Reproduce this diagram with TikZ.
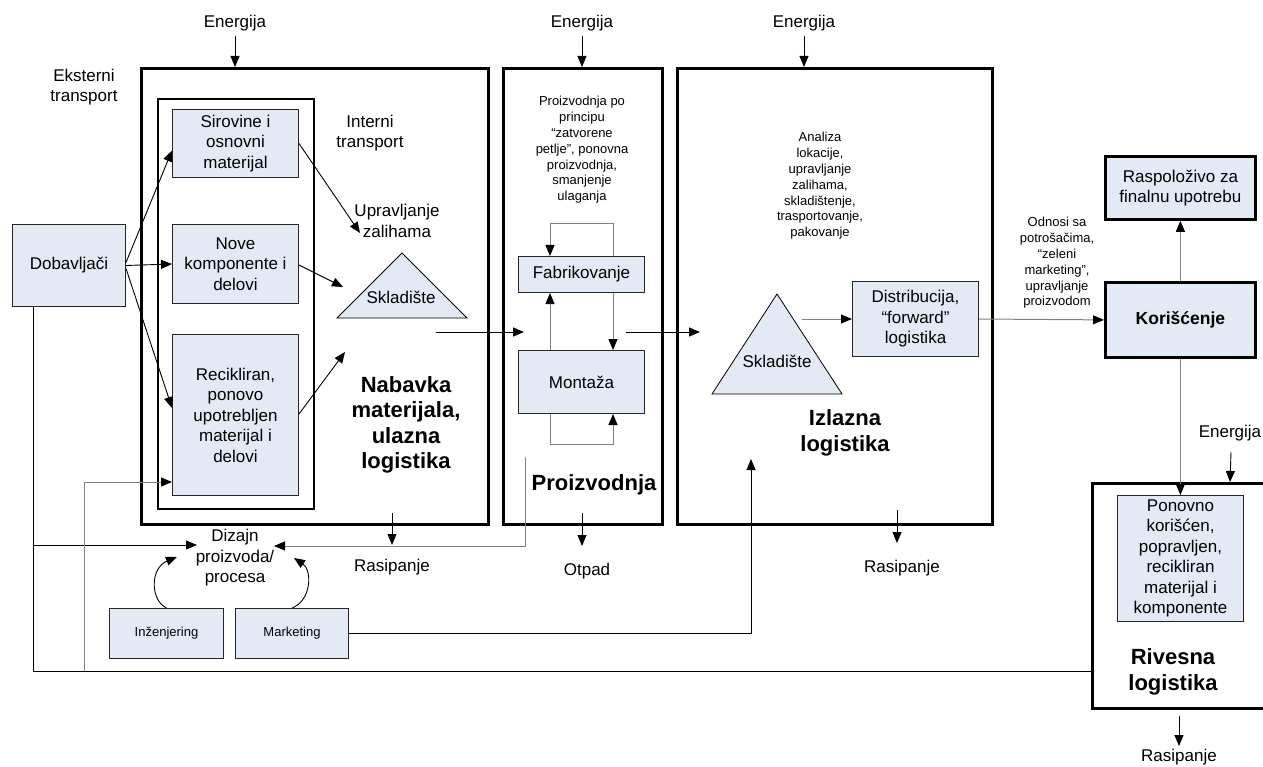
\documentclass[tikz,border=0pt]{standalone}
\usepackage{fontspec}
\setmainfont{Liberation Sans}
\usetikzlibrary{arrows.meta,calc}
\definecolor{boxblue}{HTML}{E4EAF5}
\begin{document}
\begin{tikzpicture}[x=1pt,y=-1pt,
  bigbox/.style={draw=black,line width=3pt,inner sep=0pt,anchor=north west},
  fbox/.style={draw=black!85,fill=boxblue,line width=1pt,inner sep=0pt,anchor=north west,align=center,font=\fontsize{17}{20.5}\selectfont},
  kbox/.style={fbox,line width=2.8pt,draw=black},
  txt/.style={align=center,inner sep=0pt,font=\fontsize{17}{20.5}\selectfont},
  smalltxt/.style={align=center,inner sep=0pt,font=\fontsize{13}{15.8}\selectfont},
  boldtxt/.style={align=center,inner sep=0pt,font=\fontsize{22}{25.5}\selectfont\bfseries},
  arr/.style={-{Triangle[length=11pt,width=9pt]},line width=0.9pt,draw=black},
  garr/.style={-{Triangle[length=11pt,width=9pt,color=black]},line width=1pt,draw=black!50},
  gline/.style={line width=1pt,draw=black!50},
  bline/.style={line width=0.9pt,draw=black},
  tri/.style={draw=black,fill=boxblue,line width=0.8pt}
]
\fill[white] (0,0) rectangle (1263,767);
\useasboundingbox (0,0) rectangle (1263,767);

% big boxes
\node[bigbox,minimum width=347pt,minimum height=456pt] (B1) at (140,67) {};
\node[bigbox,minimum width=159pt,minimum height=456pt] (B2) at (502,67) {};
\node[bigbox,minimum width=315pt,minimum height=456pt] (B3) at (676,67) {};
\node[bigbox,minimum width=180pt,minimum height=225pt] (B4) at (1091,482) {};
\node[draw=black,line width=1.6pt,inner sep=0pt,anchor=north west,minimum width=156pt,minimum height=410pt] (IN) at (157,98) {};

% filled boxes
\node[fbox,minimum width=126pt,minimum height=68pt] (Sir) at (172,109) {Sirovine i\\osnovni\\materijal};
\node[fbox,minimum width=126pt,minimum height=79pt] (Nov) at (172,224) {Nove\\komponente i\\delovi};
\node[fbox,minimum width=126pt,minimum height=161pt] (Rec) at (172,334) {Recikliran,\\ponovo\\upotrebljen\\materijal i\\delovi};
\node[fbox,minimum width=113pt,minimum height=82pt] (Dob) at (12,224) {Dobavljači};
\node[fbox,minimum width=126pt,minimum height=36pt] (Fab) at (518,256) {Fabrikovanje};
\node[fbox,minimum width=126pt,minimum height=63pt] (Mon) at (518,350) {Montaža};
\node[fbox,minimum width=126pt,minimum height=75pt] (Dis) at (852,281) {Distribucija,\\“forward”\\logistika};
\node[kbox,minimum width=150pt,minimum height=75pt,font=\fontsize{17.5}{20.5}\selectfont\bfseries] (Kor) at (1104,281) {Korišćenje};
\node[kbox,minimum width=150pt,minimum height=63pt] (Ras) at (1104,155) {Raspoloživo za\\finalnu upotrebu};
\node[fbox,minimum width=126pt,minimum height=126pt] (Pon) at (1117,495) {Ponovno\\korišćen,\\popravljen,\\recikliran\\materijal i\\komponente};
\node[fbox,minimum width=114pt,minimum height=50pt,font=\fontsize{13}{15.8}\selectfont] (Inz) at (109,608) {Inženjering};
\node[fbox,minimum width=113pt,minimum height=50pt,font=\fontsize{13}{15.8}\selectfont] (Mar) at (235,608) {Marketing};

% triangles
\draw[tri] (402,253) -- (467,318) -- (337,318) -- cycle;
\node[txt] (Sk1) at (401,297) {Skladište};
\draw[tri] (777,294) -- (842,394) -- (712,394) -- cycle;
\node[txt] (Sk2) at (777,361) {Skladište};

% labels
\node[txt] (E1) at (235,23) {Energija};
\node[txt] (E2) at (582,23) {Energija};
\node[txt] (E3) at (804,23) {Energija};
\node[txt] (E4) at (1230,433) {Energija};
\node[txt] (Eks) at (84,87) {Eksterni\\transport};
\node[txt] (Int) at (370,133) {Interni\\transport};
\node[txt] (Upr) at (397,221) {Upravljanje\\zalihama};
\node[boldtxt] (Nab) at (406,425) {Nabavka\\materijala,\\ulazna\\logistika};
\node[boldtxt] (Pro) at (594,485) {Proizvodnja};
\node[boldtxt] (Izl) at (845,433) {Izlazna\\logistika};
\node[boldtxt] (Riv) at (1173,672) {Rivesna\\logistika};
\node[smalltxt] (PrT) at (582,150) {Proizvodnja po\\principu\\“zatvorene\\petlje”, ponovna\\proizvodnja,\\smanjenje\\ulaganja};
\node[smalltxt] (AnT) at (820,186) {Analiza\\lokacije,\\upravljanje\\zalihama,\\skladištenje,\\trasportovanje,\\pakovanje};
\node[smalltxt] (OdT) at (1057,263) {Odnosi sa\\potrošačima,\\“zeleni\\marketing”,\\upravljanje\\proizvodom};
\node[txt] (Diz) at (235,558) {Dizajn\\proizvoda/\\procesa};
\node[txt] (R1) at (392,567) {Rasipanje};
\node[txt] (Otp) at (587,571) {Otpad};
\node[txt] (R3) at (902,568) {Rasipanje};
\node[txt] (R4) at (1179,757) {Rasipanje};

% energy arrows
\draw[arr] (235,36) -- (B1.north -| E1);
\draw[arr] (582,36) -- (B2.north -| E2);
\draw[arr] (804,36) -- (B3.north -| E3);
\draw[arr] (1231,452) -- (B4.north -| E4);

% outflow arrows
\coordinate (r1) at (392,513);
\coordinate (r2) at (582,513);
\coordinate (r3) at (897,510);
\coordinate (r4) at (1179,716);
\draw[arr] (r1) -- (392,545);
\draw[arr] (r2) -- (582,546);
\draw[arr] (r3) -- (897,543);
\draw[arr] (r4) -- (1179,746);

% supplier arrows
\draw[arr] ($(Dob.east)+(0,-3)$) -- ($(Sir.west)+(0,7)$);
\draw[arr] (Dob.east) -- (Nov.west);
\draw[arr] ($(Dob.east)+(0,3)$) -- ($(Rec.west)+(0,-7)$);

% to inventory
\coordinate (u1) at (360,233);
\coordinate (u2) at (343,287);
\coordinate (u3) at (345,352);
\draw[arr] ($(Sir.east)+(0,0)$) -- (u1);
\draw[arr] ($(Nov.east)+(0,1)$) -- (u2);
\draw[arr] ($(Rec.east)+(0,-1)$) -- (u3);

% between blocks
\coordinate (a1) at (436,332);
\coordinate (a2) at (524,332);
\coordinate (a3) at (626,332);
\coordinate (a4) at (700,332);
\draw[arr] (a1) -- (a2);
\draw[arr] (a3) -- (a4);

% production loops
\coordinate (pl) at (550,0);
\coordinate (pr) at (613,0);
\draw[garr] (Fab.north -| pr) -- (613,224) -- (550,224) -- (Fab.north -| pl);
\draw[garr] (Mon.north -| pl) -- (Fab.south -| pl);
\draw[garr] (Fab.south -| pr) -- (Mon.north -| pr);
\draw[garr] (Mon.south -| pl) -- (550,444) -- (613,444) -- (Mon.south -| pr);

% outbound
\coordinate (t2) at (802,319);
\draw[garr] (t2) -- (t2 -| Dis.west);
\draw[garr] (Dis.east) -- (Kor.west);
\draw[garr] (Kor.north) -- (Kor.north |- Ras.south);
\draw[garr] (Kor.south) -- (Kor.south |- Pon.north);

% design
\coordinate (dz1) at (177,557);
\coordinate (dz2) at (294,558);
\coordinate (dzl) at (197,545);
\coordinate (dzr) at (274,546);
\draw[arr] (Inz.north) .. controls (150,600) and (150,568) .. (dz1);
\draw[arr] (Mar.north) .. controls (312,600) and (312,570) .. (dz2);
\draw[garr] (525,457) -- (525,546) -- (dzr);

% marketing to outbound
\coordinate (mk) at (751,459);
\draw[arr] (Mar.east) -- (Mar.east -| mk) -- (mk);

% bottom return lines
\coordinate (dbs) at ($(Dob.south west)+(21,0)$);
\coordinate (bl) at (33,671);
\coordinate (gv) at (84,671);
\draw[bline] (dbs) -- (bl) -- (bl -| B4.west);
\draw[arr] (33,545) -- (dzl);
\draw[garr] (gv) -- (84,482) -- (84,482 -| Rec.west);
\end{tikzpicture}
\end{document}
